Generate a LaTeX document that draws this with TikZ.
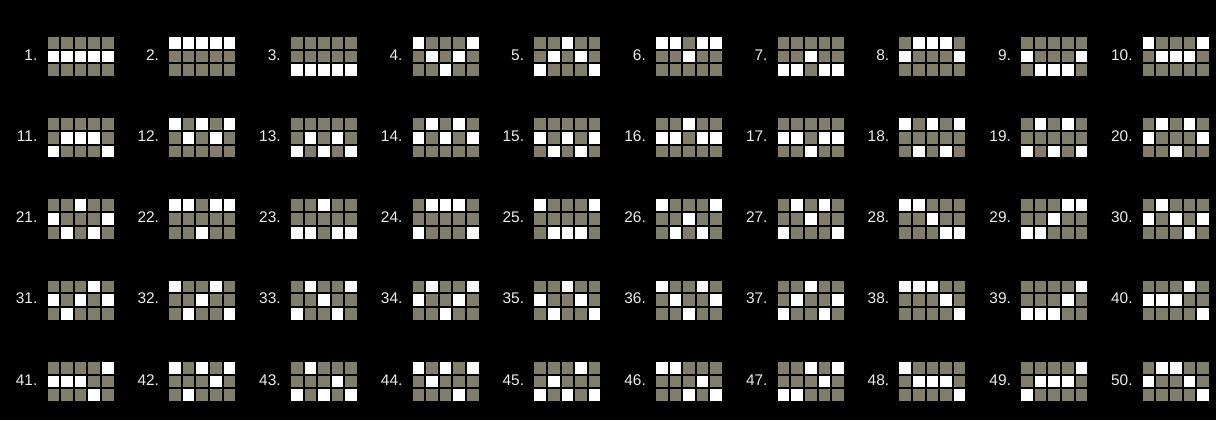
\documentclass[tikz,border=0pt]{standalone}
\usepackage{fontspec}
\setmainfont{Liberation Sans}
\usepackage{tikz}
\definecolor{reel}{HTML}{807D6B}
\definecolor{lit}{HTML}{FFFFFF}
\definecolor{bg}{HTML}{000000}

\begin{document}
\begin{tikzpicture}[x=1bp,y=1bp,
  lbl/.style={text=white!92!black,font=\fontsize{15.5}{15.5}\selectfont,inner sep=0pt}]
  \useasboundingbox (0,0) rectangle (1216,420);
  \fill[bg] (0,0) rectangle (1216,420);
  % number / winning row on each of the five reels (0 = top)
  \foreach \n/\pa/\pb/\pc/\pd/\pe in {
    1/1/1/1/1/1, 2/0/0/0/0/0, 3/2/2/2/2/2, 4/0/1/2/1/0, 5/2/1/0/1/2,
    6/0/0/1/0/0, 7/2/2/1/2/2, 8/1/0/0/0/1, 9/1/2/2/2/1, 10/0/1/1/1/0,
    11/2/1/1/1/2, 12/0/1/0/1/0, 13/2/1/2/1/2, 14/1/0/1/0/1, 15/1/2/1/2/1,
    16/1/1/0/1/1, 17/1/1/2/1/1, 18/0/2/0/2/0, 19/2/0/2/0/2, 20/1/0/2/0/1,
    21/1/2/0/2/1, 22/0/0/2/0/0, 23/2/2/0/2/2, 24/2/0/0/0/2, 25/0/2/2/2/0,
    26/0/2/1/2/0, 27/2/0/1/0/2, 28/0/0/1/2/2, 29/2/2/1/0/0, 30/1/0/1/2/1,
    31/1/2/1/0/1, 32/0/2/1/0/2, 33/2/0/1/2/0, 34/1/0/2/1/0, 35/1/2/0/1/2,
    36/0/1/2/0/1, 37/2/1/0/2/1, 38/0/0/0/1/2, 39/2/2/2/1/0, 40/1/1/1/0/2,
    41/1/1/1/2/0, 42/0/2/0/1/0, 43/2/0/2/1/2, 44/0/1/0/2/0, 45/2/1/2/0/2,
    46/0/0/2/1/2, 47/2/2/0/1/0, 48/0/1/1/1/2, 49/2/1/1/1/0, 50/1/0/0/1/2} {
    \pgfmathtruncatemacro{\gc}{mod(\n-1,10)}
    \pgfmathtruncatemacro{\gr}{div(\n-1,10)}
    \pgfmathsetmacro{\gx}{46.5+121.7*\gc}
    \pgfmathsetmacro{\gy}{384-81.2*\gr}
    \node[lbl,anchor=east] (lbl\n) at (\gx-9,\gy-19) {\n.};
    \foreach \cc in {0,...,4} {\foreach \rr in {0,1,2} {
      \fill[reel] (\gx+\cc*13.6+1,\gy-\rr*13.7-1) rectangle ++(11.6,-11.7);
    }}
    \foreach \cc/\w in {0/\pa,1/\pb,2/\pc,3/\pd,4/\pe}
      \fill[lit] (\gx+\cc*13.6+1,\gy-\w*13.7-1) rectangle ++(11.6,-11.7);
  }
\end{tikzpicture}
\end{document}
